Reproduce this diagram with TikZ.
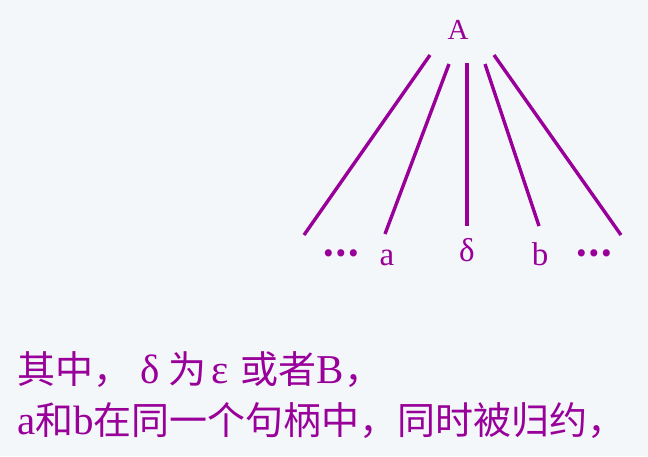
\documentclass[tikz,border=0pt]{standalone}
\usepackage{fontspec}
\newfontfamily\lat{Liberation Serif}
\newfontfamily\cjk{Noto Sans CJK SC}
\usepackage{tikz}
\definecolor{bgblue}{HTML}{F3F7FA}
\definecolor{purp}{HTML}{990099}
\newcommand{\latbig}[1]{{\lat\fontsize{41}{42}\selectfont #1}}

\begin{document}
\begin{tikzpicture}[x=1pt, y=-1pt,
  branch/.style={draw=purp, line width=3.4pt},
  leaf/.style={text=purp, font=\lat\fontsize{33}{35}\selectfont, inner sep=0pt, anchor=base},
  dots/.style={text=purp, font=\cjk\bfseries\fontsize{33}{35}\selectfont, inner sep=0pt},
  line/.style={text=purp, font=\cjk\fontsize{38}{42}\selectfont, inner sep=0pt, anchor=base west}]
\fill[bgblue] (0,0) rectangle (648,456);
\node[leaf, font=\lat\fontsize{29}{31}\selectfont] (root) at (458,39) {A};
% ends of the branches
\coordinate (t1) at (430,55);  \coordinate (b1) at (304,235);
\coordinate (t2) at (449,64);  \coordinate (b2) at (385,234);
\coordinate (t3) at (467,63);  \coordinate (b3) at (467,226);
\coordinate (t4) at (485,64);  \coordinate (b4) at (539,226);
\coordinate (t5) at (494,55);  \coordinate (b5) at (621,235);
\foreach \i in {1,...,5}
  \draw[branch] (t\i) -- (b\i);
\node[dots] (ldots) at (341,253) {…};
\node[leaf] (a) at (387,265) {a};
\node[leaf] (delta) at (467,261) {δ};
\node[leaf] (b) at (540,265) {b};
\node[dots] (rdots) at (594,253) {…};
\node[line] (note1) at (17,383) {其中，\hspace{9pt}\latbig{δ}\hspace{9pt}为\hspace{5pt}\latbig{ε}\hspace{12pt}或者\latbig{B}，};
\node[line] (note2) at (17,434) {\latbig{a}和\latbig{b}在同一个句柄中，同时被归约，};
\end{tikzpicture}
\end{document}
